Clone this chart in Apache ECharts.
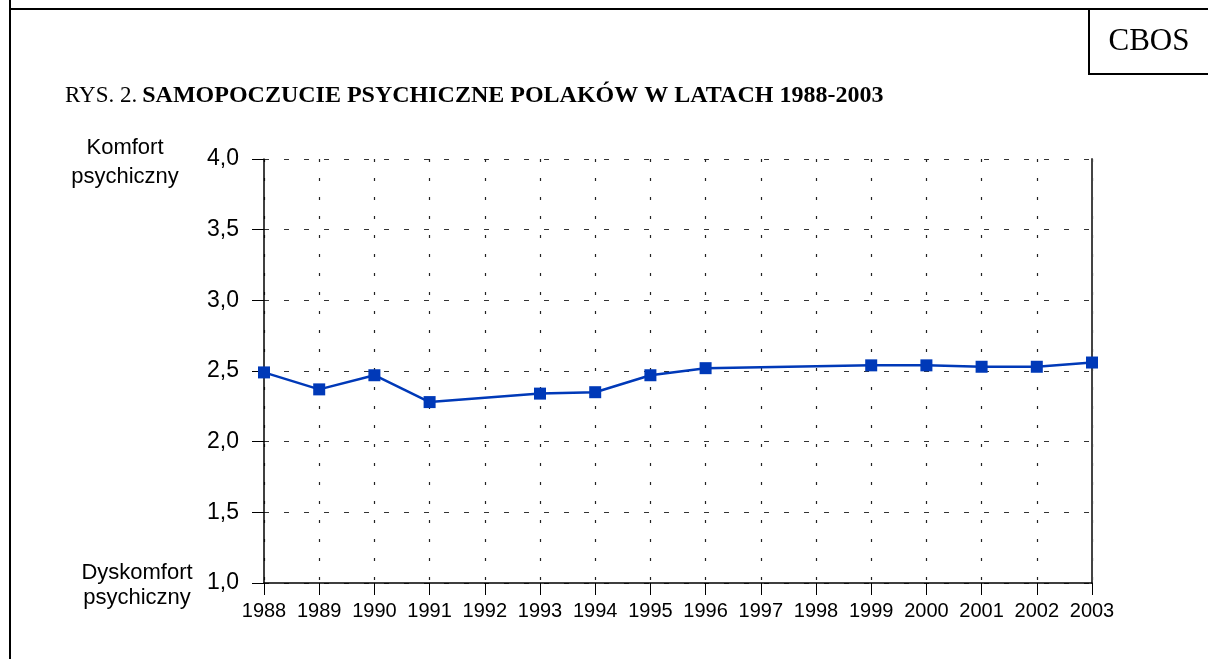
<!DOCTYPE html>
<html>
<head>
<meta charset="utf-8">
<script src="https://cdn.jsdelivr.net/npm/echarts@6/dist/echarts.min.js"></script>
<style>
  html, body { margin: 0; padding: 0; background: #fff; }
  #chart { width: 1208px; height: 659px; }
</style>
</head>
<body>
<div id="chart"></div>
<script>
  // lata badania
  const years = ['1988', '1989', '1990', '1991', '1992', '1993', '1994', '1995',
    '1996', '1997', '1998', '1999', '2000', '2001', '2002', '2003']
  // srednie samopoczucie (brak pomiaru = null)
  const wellbeing = [2.49, 2.37, 2.47, 2.28, null, 2.34, 2.35, 2.47,
    2.52, null, null, 2.54, 2.54, 2.53, 2.53, 2.56]
  const yTicks = [1.0, 1.5, 2.0, 2.5, 3.0, 3.5, 4.0]

  const chart = echarts.init(document.getElementById('chart'))
  const sans = 'Arial, "Liberation Sans", sans-serif'
  const serif = '"Times New Roman", "Liberation Serif", serif'

  const option = {
    animation: false,
    title: {
      left: 60,
      top: 79,
      text: '{r|RYS. 2.} {b|SAMOPOCZUCIE PSYCHICZNE POLAKÓW W LATACH 1988-2003}',
      textStyle: {
        fontWeight: 'normal',
        rich: {
          r: { fontFamily: serif, fontSize: 23, fontWeight: 'normal', color: '#000' },
          b: { fontFamily: serif, fontSize: 24, fontWeight: 'bold', color: '#000' }
        }
      }
    },
    graphic: [
      // ramka strony
      { type: 'line', shape: { x1: 10, y1: 0, x2: 10, y2: 700 }, style: { stroke: '#000', lineWidth: 2 } },
      { type: 'line', shape: { x1: 9, y1: 9, x2: 1220, y2: 9 }, style: { stroke: '#000', lineWidth: 2 } },
      // pole CBOS
      { type: 'line', shape: { x1: 1089, y1: 9, x2: 1089, y2: 74 }, style: { stroke: '#000', lineWidth: 2 } },
      { type: 'line', shape: { x1: 1088, y1: 74, x2: 1220, y2: 74 }, style: { stroke: '#000', lineWidth: 2 } },
      {
        type: 'text', x: 1149, y: 42,
        style: {
          text: 'CBOS', font: '31px ' + serif, fill: '#000',
          align: 'center', verticalAlign: 'middle'
        }
      },
      {
        type: 'text', x: 125, y: 162,
        style: {
          text: 'Komfort\npsychiczny', font: '22px ' + sans, fill: '#000',
          align: 'center', verticalAlign: 'middle', lineHeight: 29
        }
      },
      {
        type: 'text', x: 137, y: 585,
        style: {
          text: 'Dyskomfort\npsychiczny', font: '22px ' + sans, fill: '#000',
          align: 'center', verticalAlign: 'middle', lineHeight: 25
        }
      }
    ],
    grid: {
      left: 264,
      right: 116,
      top: 159,
      bottom: 76
    },
    xAxis: {
      type: 'category',
      data: years,
      boundaryGap: false,
      axisLine: { lineStyle: { color: '#000', width: 1.5 } },
      axisTick: { show: true, interval: 0, length: 12, lineStyle: { color: '#000' } },
      axisLabel: { interval: 0, color: '#000', fontFamily: sans, fontSize: 20, margin: 18 },
      splitLine: {
        show: true,
        interval: 0,
        lineStyle: { color: '#222', type: [3, 16], width: 1.2 }
      }
    },
    yAxis: [{
      type: 'value',
      min: 1,
      max: 4,
      interval: 0.5,
      axisLine: { show: true, lineStyle: { color: '#000', width: 1.5 } },
      axisTick: { show: true, length: 12, lineStyle: { color: '#000' } },
      axisLabel: {
        color: '#000', fontFamily: sans, fontSize: 23, margin: 25,
        formatter: (v) => yTicks.indexOf(v) >= 0 ? v.toFixed(1).replace('.', ',') : ''
      },
      splitLine: {
        show: true,
        lineStyle: { color: '#333', type: [5, 15], width: 1 }
      }
    }, {
      type: 'value',
      position: 'right',
      min: 1,
      max: 4,
      interval: 0.5,
      axisLine: { show: true, lineStyle: { color: '#444', width: 2 } },
      axisTick: { show: false },
      axisLabel: { show: false },
      splitLine: { show: false }
    }],
    series: [{
      type: 'line',
      data: wellbeing,
      connectNulls: true,
      symbol: 'rect',
      symbolSize: 12,
      lineStyle: { color: '#0039b8', width: 2.5 },
      itemStyle: { color: '#0039b8' }
    }]
  }

  chart.setOption(option)

  window.addEventListener('resize', function () {
    chart.resize()
  })
</script>
</body>
</html>
